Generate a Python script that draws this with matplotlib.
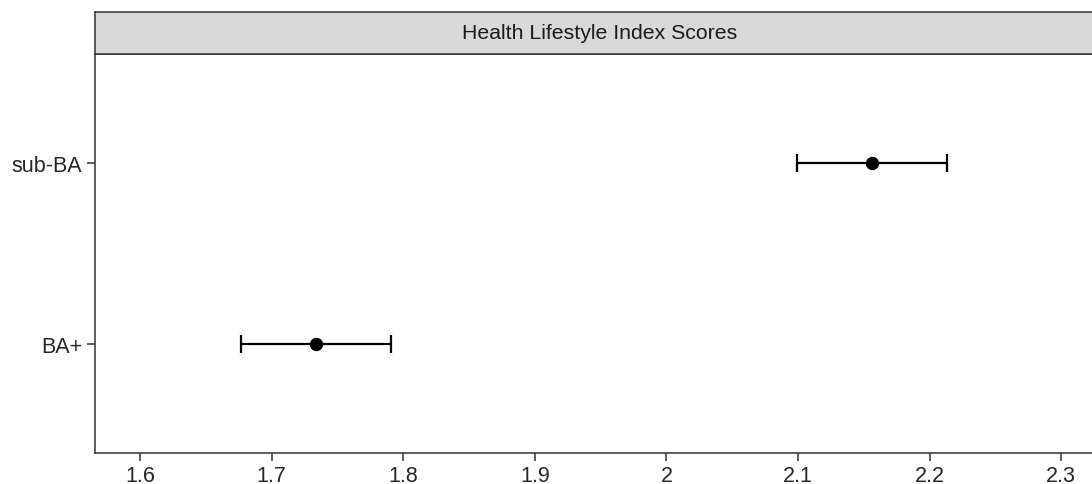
import matplotlib
matplotlib.use("Agg")
import matplotlib.pyplot as plt

categories = ["BA+", "sub-BA"]
means = [1.734, 2.156]
lower = [1.677, 2.099]
upper = [1.791, 2.213]
xticks = [1.6, 1.7, 1.8, 1.9, 2.0, 2.1, 2.2, 2.3]
xticklabels = ["1.6", "1.7", "1.8", "1.9", "2", "2.1", "2.2", "2.3"]
title = "Health Lifestyle Index Scores"

plt.rcParams['font.family'] = ['Liberation Sans', 'DejaVu Sans']

W, H = 1092, 485
fig = plt.figure(figsize=(W / 100, H / 100), dpi=100)

left_px, right_px = 95, 1105
top_px, bot_px = 55, 454
strip_top_px = 12.5
ax = fig.add_axes([left_px / W, 1 - bot_px / H, (right_px - left_px) / W, (bot_px - top_px) / H])

ypos = list(range(1, len(categories) + 1))
xerr = [[m - l for m, l in zip(means, lower)], [u - m for m, u in zip(means, upper)]]
ax.errorbar(means, ypos, xerr=xerr, fmt='o', color='black', ecolor='black',
            elinewidth=1.6, capsize=6.5, capthick=1.6, markersize=8.6, zorder=3)

# x scale: 1.6 at 140px, 0.1 per 131.6px
px_per_unit = 1316.0
x0 = 1.6 - (140 - left_px) / px_per_unit
x1 = 1.6 + (right_px - 140) / px_per_unit
ax.set_xlim(x0, x1)
ax.set_ylim(0.4, len(categories) + 0.6)
ax.set_xticks(xticks)
ax.set_xticklabels(xticklabels)
ax.set_yticks(ypos)
ax.set_yticklabels(categories)

for s in ax.spines.values():
    s.set_color('#333333')
    s.set_linewidth(1.1)
ax.tick_params(axis='both', colors='#333333', length=5.5, width=1.1,
               labelsize=15.5, labelcolor='#262626', pad=3.5)

# facet strip
strip_ax = fig.add_axes([left_px / W, 1 - top_px / H, (right_px - left_px) / W, (top_px - strip_top_px) / H])
strip_ax.set_xticks([])
strip_ax.set_yticks([])
strip_ax.set_facecolor('#D9D9D9')
for s in strip_ax.spines.values():
    s.set_color('#333333')
    s.set_linewidth(1.1)
strip_ax.text((600 - left_px) / (right_px - left_px), 0.5, title, ha='center', va='center',
              fontsize=15.3, color='#1a1a1a', transform=strip_ax.transAxes)

fig.savefig("out.png", dpi=100)
